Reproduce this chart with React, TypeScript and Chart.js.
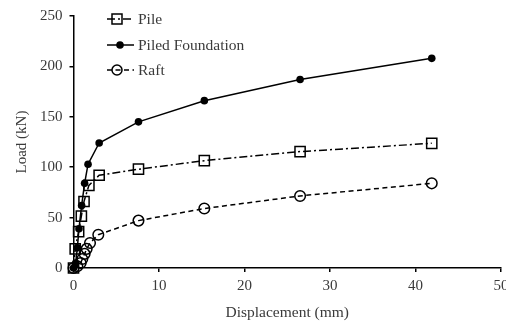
import React, { useEffect, useRef } from "react";
import { Chart, registerables } from "chart.js";

Chart.register(...registerables);

const seriesNames = ["Pile", "Piled Foundation", "Raft"];

const pileX = [0, 0.2, 0.6, 0.92, 1.23, 1.8, 3.0, 7.6, 15.3, 26.5, 41.9];
const pileY = [0, 19, 36, 51.5, 66, 82, 92, 98, 106.5, 115.5, 123.7];

const pfX = [0, 0.25, 0.45, 0.64, 0.95, 1.3, 1.7, 3.0, 7.6, 15.3, 26.5, 41.9];
const pfY = [0, 5, 20, 39, 62, 84, 103, 124, 145, 166, 187, 208];

const raftX = [0, 0.45, 0.84, 1.03, 1.3, 1.54, 1.93, 2.9, 7.6, 15.3, 26.5, 41.9];
const raftY = [0, 1.7, 5, 9, 14, 19, 24.8, 33, 47, 59, 71.5, 84];

const xTicks = [0, 10, 20, 30, 40, 50];
const yTicks = [0, 50, 100, 150, 200, 250];

const FONT = "'Liberation Serif', 'Times New Roman', serif";
const TEXT = "#3a3a3a";

function pts(xs: number[], ys: number[]) {
  return xs.map((x, i) => ({ x, y: ys[i] }));
}

const legendPlugin = {
  id: "customLegend",
  afterDraw(chart: any) {
    const ctx = chart.ctx;
    const ys = [19, 45, 70];
    chart.data.datasets.forEach((ds: any, i: number) => {
      const y = ys[i];
      ctx.save();
      ctx.strokeStyle = "#000";
      ctx.lineWidth = 1.5;
      ctx.setLineDash(ds.borderDash || []);
      ctx.beginPath();
      ctx.moveTo(107, y);
      ctx.lineTo(134, y);
      ctx.stroke();
      ctx.setLineDash([]);
      const cx = 117;
      ctx.lineWidth = 1.5;
      ctx.beginPath();
      if (ds.pointStyle === "rect") {
        ctx.rect(cx - 5, y - 5, 10, 10);
        ctx.stroke();
      } else if (ds.pointBackgroundColor === "#000") {
        ctx.arc(cx + 3, y, 3.8, 0, Math.PI * 2);
        ctx.fillStyle = "#000";
        ctx.fill();
      } else {
        ctx.arc(cx, y, 5, 0, Math.PI * 2);
        ctx.stroke();
      }
      ctx.fillStyle = TEXT;
      ctx.font = `15.5px ${FONT}`;
      ctx.textBaseline = "middle";
      ctx.textAlign = "left";
      ctx.fillText(ds.label, 138, y + 1);
      ctx.restore();
    });
  },
};

export default function App() {
  const ref = useRef<HTMLCanvasElement | null>(null);
  useEffect(() => {
    document.body.style.margin = "0";
    if (!ref.current) return;
    const chart = new Chart(ref.current, {
      type: "scatter",
      data: {
        datasets: [
          {
            label: seriesNames[0],
            data: pts(pileX, pileY),
            showLine: true,
            borderColor: "#000",
            borderWidth: 1.5,
            borderDash: [8, 3, 2, 3],
            pointStyle: "rect",
            pointRadius: 7.2,
            pointBorderWidth: 1.5,
            pointBorderColor: "#000",
            pointBackgroundColor: "rgba(0,0,0,0)",
            clip: false,
          } as any,
          {
            label: seriesNames[1],
            data: pts(pfX, pfY),
            showLine: true,
            borderColor: "#000",
            borderWidth: 1.5,
            pointStyle: "circle",
            pointRadius: 3.8,
            pointBorderWidth: 0,
            pointBorderColor: "#000",
            pointBackgroundColor: "#000",
            clip: false,
          } as any,
          {
            label: seriesNames[2],
            data: pts(raftX, raftY),
            showLine: true,
            borderColor: "#000",
            borderWidth: 1.5,
            borderDash: [5, 3.5],
            pointStyle: "circle",
            pointRadius: 5.3,
            pointBorderWidth: 1.5,
            pointBorderColor: "#000",
            pointBackgroundColor: "rgba(0,0,0,0)",
            clip: false,
          } as any,
        ],
      },
      options: {
        animation: false,
        responsive: false,
        layout: {
          autoPadding: false,
          padding: { top: 16, right: 5, left: 0, bottom: 0 },
        } as any,
        plugins: {
          legend: { display: false },
          tooltip: { enabled: false },
        },
        scales: {
          x: {
            type: "linear",
            min: 0,
            max: 50,
            afterFit: (s: any) => {
              s.height = 58;
              s.paddingLeft = 0;
              s.paddingRight = 0;
            },
            afterBuildTicks: (s: any) => {
              s.ticks = xTicks.map((v) => ({ value: v }));
            },
            ticks: {
              color: TEXT,
              font: { family: FONT, size: 15 },
              padding: 5,
              maxRotation: 0,
            },
            grid: {
              display: true,
              drawOnChartArea: false,
              drawTicks: true,
              tickLength: 4,
              color: "#000",
              lineWidth: 1.5,
            },
            border: { display: true, color: "#000", width: 1.5 },
            title: {
              display: true,
              text: "Displacement (mm)",
              color: TEXT,
              font: { family: FONT, size: 15.5 },
              padding: { top: 0, bottom: 4 },
            },
          },
          y: {
            type: "linear",
            min: 0,
            max: 250,
            afterFit: (s: any) => {
              s.width = 73.5;
              s.paddingTop = 0;
              s.paddingBottom = 0;
            },
            afterBuildTicks: (s: any) => {
              s.ticks = yTicks.map((v) => ({ value: v }));
            },
            ticks: {
              color: TEXT,
              font: { family: FONT, size: 15 },
              padding: 7,
            },
            grid: {
              display: true,
              drawOnChartArea: false,
              drawTicks: true,
              tickLength: 4,
              color: "#000",
              lineWidth: 1.5,
            },
            border: { display: true, color: "#000", width: 1.5 },
            title: {
              display: true,
              text: "Load (kN)",
              color: TEXT,
              font: { family: FONT, size: 15 },
              padding: { top: 13, bottom: 0 },
            },
          },
        },
      },
      plugins: [legendPlugin],
    });
    return () => chart.destroy();
  }, []);
  return (
    <div style={{ width: 506, height: 326 }}>
      <canvas
        ref={ref}
        width={506}
        height={326}
        style={{ width: 506, height: 326, display: "block" }}
      />
    </div>
  );
}
